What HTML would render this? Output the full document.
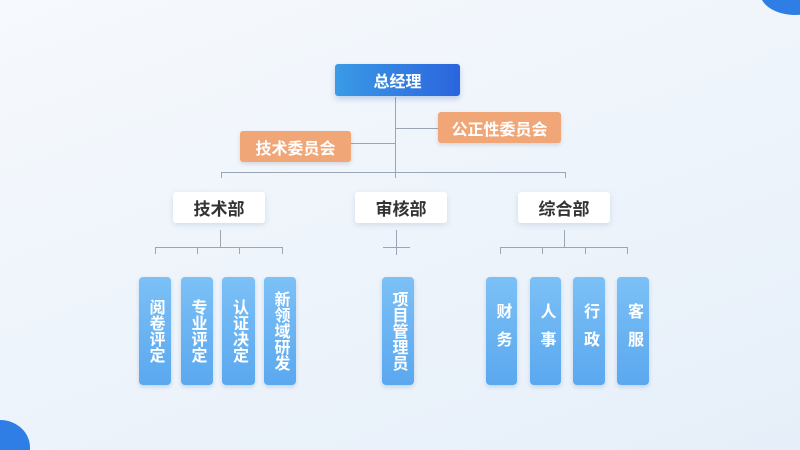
<!DOCTYPE html><html><head><meta charset="utf-8"><style>
body{margin:0;width:800px;height:450px;overflow:hidden;font-family:"Liberation Sans","Noto Sans CJK SC",sans-serif;}
#c{position:relative;width:800px;height:450px;background:linear-gradient(160deg,#f6f9fd 0%,#eef4fb 50%,#e6eff9 100%);overflow:hidden}
.b{position:absolute;display:flex;align-items:center;justify-content:center;font-weight:bold;border-radius:3px;box-sizing:border-box}
.top{background:linear-gradient(90deg,#3a9be6,#2b64dd);color:#fff;font-size:16px;box-shadow:0 3px 6px rgba(40,90,180,.25)}
.or{background:#f0a676;color:#fff;font-size:16px;box-shadow:0 2px 4px rgba(0,0,0,.12)}
.w{background:#fff;color:#333;font-size:17px;box-shadow:0 2px 6px rgba(80,110,150,.18)}
.v{background:linear-gradient(180deg,#7cc0f6,#5aa8ef);color:#fff;font-size:16px;line-height:19px;writing-mode:vertical-rl;text-orientation:upright;box-shadow:0 2px 4px rgba(40,90,160,.2);border-radius:4px}
.l{position:absolute;background:#9aa6b3}
</style></head><body><div id="c">
<div style="position:absolute;right:-30px;top:-30px;width:70px;height:45px;border-radius:50%;background:#2f7ee6"></div>
<div style="position:absolute;left:-30px;bottom:-25px;width:60px;height:55px;border-radius:50%;background:#2f7ee6"></div>
<div class="l" style="left:395px;top:97px;width:1px;height:81px"></div>
<div class="l" style="left:395px;top:128px;width:43px;height:1px"></div>
<div class="l" style="left:351px;top:143px;width:44px;height:1px"></div>
<div class="l" style="left:221px;top:172px;width:345px;height:1px"></div>
<div class="l" style="left:221px;top:172px;width:1px;height:6px"></div>
<div class="l" style="left:565px;top:172px;width:1px;height:6px"></div>
<div class="l" style="left:220px;top:230px;width:1px;height:17px"></div>
<div class="l" style="left:155px;top:247px;width:128px;height:1px"></div>
<div class="l" style="left:155px;top:247px;width:1px;height:7px"></div>
<div class="l" style="left:197px;top:247px;width:1px;height:7px"></div>
<div class="l" style="left:239px;top:247px;width:1px;height:7px"></div>
<div class="l" style="left:282px;top:247px;width:1px;height:7px"></div>
<div class="l" style="left:396px;top:230px;width:1px;height:25px"></div>
<div class="l" style="left:383px;top:247px;width:27px;height:1px"></div>
<div class="l" style="left:564px;top:230px;width:1px;height:17px"></div>
<div class="l" style="left:500px;top:247px;width:128px;height:1px"></div>
<div class="l" style="left:500px;top:247px;width:1px;height:7px"></div>
<div class="l" style="left:542px;top:247px;width:1px;height:7px"></div>
<div class="l" style="left:585px;top:247px;width:1px;height:7px"></div>
<div class="l" style="left:627px;top:247px;width:1px;height:7px"></div>
<div class="b top" style="left:335px;top:64px;width:125px;height:32px">总经理</div>
<div class="b or" style="left:438px;top:112px;width:123px;height:31px">公正性委员会</div>
<div class="b or" style="left:240px;top:131px;width:111px;height:31px">技术委员会</div>
<div class="b w" style="left:173px;top:192px;width:92px;height:31px">技术部</div>
<div class="b w" style="left:355px;top:192px;width:92px;height:31px">审核部</div>
<div class="b w" style="left:518px;top:192px;width:92px;height:31px">综合部</div>
<div class="b v" style="left:139px;top:277px;width:32px;height:108px">阅卷评定</div>
<div class="b v" style="left:181px;top:277px;width:32px;height:108px">专业评定</div>
<div class="b v" style="left:222px;top:277px;width:33px;height:108px">认证决定</div>
<div class="b v" style="left:264px;top:277px;width:32px;height:108px">新领域研发</div>
<div class="b v" style="left:382px;top:277px;width:32px;height:108px">项目管理员</div>
<div class="b v" style="left:486px;top:277px;width:31px;height:108px;line-height:24px;letter-spacing:12px">财务</div>
<div class="b v" style="left:530px;top:277px;width:31px;height:108px;line-height:24px;letter-spacing:12px">人事</div>
<div class="b v" style="left:573px;top:277px;width:32px;height:108px;line-height:24px;letter-spacing:12px">行政</div>
<div class="b v" style="left:617px;top:277px;width:32px;height:108px;line-height:24px;letter-spacing:12px">客服</div>
</div></body></html>
